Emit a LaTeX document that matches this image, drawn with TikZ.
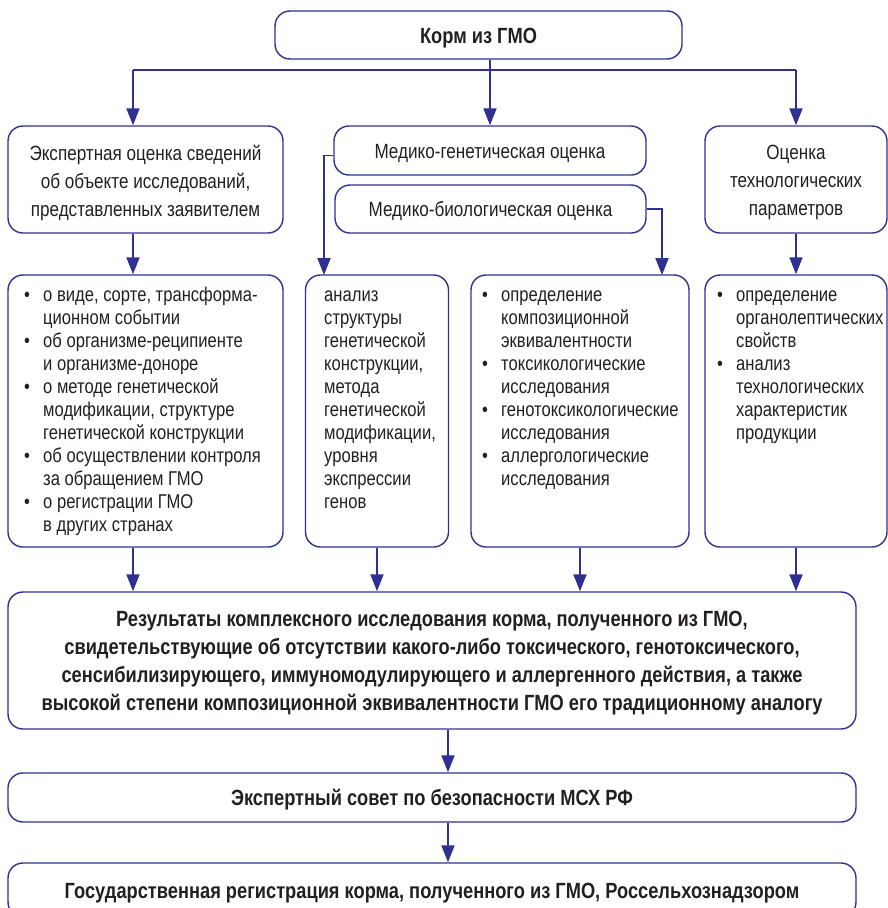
\documentclass[tikz,border=0pt]{standalone}
\usepackage{fontspec}
\setmainfont{Liberation Sans}[FakeStretch=0.83]
\usetikzlibrary{arrows.meta,calc}
\definecolor{bl}{RGB}{46,49,146}
\definecolor{tx}{RGB}{35,31,32}
\newcommand\mybul{\makebox[19pt][l]{\textbullet}}
\begin{document}
\begin{tikzpicture}[x=1pt,y=-1pt,
  box/.style={draw=bl, line width=1.4pt, rounded corners=15pt, inner sep=0pt},
  arr/.style={draw=bl, line width=1.9pt, -{Triangle[length=17pt,width=13pt]}},
  hd/.style={inner sep=0pt, text=tx, font=\fontsize{20.6}{28}\selectfont, align=center},
  bd/.style={inner sep=0pt, text=tx, font=\bfseries\fontsize{22}{28}\selectfont, align=center},
  lst/.style={inner sep=0pt, anchor=north west, text=tx, font=\fontsize{20}{23}\selectfont}]
\clip (0,0) rectangle (888,908);
\useasboundingbox (0,0) rectangle (888,908);
% boxes
\node[box,minimum width=407pt,minimum height=48pt] (top) at (478.5,35) {};
\node[box,minimum width=275pt,minimum height=107pt] (e1) at (145.5,179.5) {};
\node[box,minimum width=312pt,minimum height=49pt] (mg) at (490,150.5) {};
\node[box,minimum width=311pt,minimum height=48pt] (mb) at (490.5,209) {};
\node[box,minimum width=182pt,minimum height=107pt] (tp) at (796,179.5) {};
\node[box,minimum width=275pt,minimum height=272pt] (bA) at (145.5,411) {};
\node[box,minimum width=143pt,minimum height=272pt] (bB) at (377,411) {};
\node[box,minimum width=218pt,minimum height=272pt] (bC) at (580,411) {};
\node[box,minimum width=182pt,minimum height=272pt] (bD) at (796,411) {};
\node[box,minimum width=848pt,minimum height=137pt] (res) at (432,660.5) {};
\node[box,minimum width=848pt,minimum height=49pt] (cn) at (432,797.5) {};
\node[box,minimum width=848pt,minimum height=54pt] (fin) at (432,890) {};
% box texts
\node[bd] (topt) at ([yshift=-3pt]top.center) {Корм из ГМО};
\node[hd] (e1t) at ([yshift=-3pt]e1.center) {Экспертная оценка сведений\\об объекте исследований,\\представленных заявителем};
\node[hd] (mgt) at ([yshift=-3pt]mg.center) {Медико-генетическая оценка};
\node[hd] (mbt) at ([yshift=-2pt]mb.center) {Медико-биологическая оценка};
\node[hd] (tpt) at ([yshift=-3pt]tp.center) {Оценка\\технологических\\параметров};
\node[bd] (rest) at ([yshift=-2.5pt]res.center) {Результаты комплексного исследования корма, полученного из ГМО,\\свидетельствующие об отсутствии какого-либо токсического, генотоксического,\\сенсибилизирующего, иммуномодулирующего и аллергенного действия, а также\\высокой степени композиционной эквивалентности ГМО его традиционному аналогу};
\node[bd] (cnt) at ([yshift=-2pt]cn.center) {Экспертный совет по безопасности МСХ РФ};
\node[bd] (fint) at ([yshift=-3pt]fin.center) {Государственная регистрация корма, полученного из ГМО, Россельхознадзором};
% list texts
\node[lst] (tA) at (24,285) {\begin{tabular}{@{}l@{}l@{}}
\mybul & о виде, сорте, трансформа-\\
 & ционном событии\\
\mybul & об организме-реципиенте\\
 & и организме-доноре\\
\mybul & о методе генетической\\
 & модификации, структуре\\
 & генетической конструкции\\
\mybul & об осуществлении контроля\\
 & за обращением ГМО\\
\mybul & о регистрации ГМО\\
 & в других странах
\end{tabular}};
\node[lst] (tB) at (324,285) {\begin{tabular}{@{}l@{}}
анализ\\ структуры\\ генетической\\ конструкции,\\ метода\\ генетической\\ модификации,\\ уровня\\ экспрессии\\ генов
\end{tabular}};
\node[lst] (tC) at (482,285) {\begin{tabular}{@{}l@{}l@{}}
\mybul & определение\\
 & композиционной\\
 & эквивалентности\\
\mybul & токсикологические\\
 & исследования\\
\mybul & генотоксикологические\\
 & исследования\\
\mybul & аллергологические\\
 & исследования
\end{tabular}};
\node[lst] (tD) at (717,285) {\begin{tabular}{@{}l@{}l@{}}
\mybul & определение\\
 & органолептических\\
 & свойств\\
\mybul & анализ\\
 & технологических\\
 & характеристик\\
 & продукции
\end{tabular}};
% connectors
\coordinate (hl) at (133,70);
\coordinate (hm) at (490,70);
\coordinate (hr) at (796,70);
\draw[draw=bl,line width=1.9pt] (hl) -- (hr);
\draw[draw=bl,line width=1.9pt] (top.south -| hm) -- (hm);
\draw[arr] (hl) -- (hl |- e1.north);
\draw[arr] (hm) -- (mg.north);
\draw[arr] (hr) -- (tp.north);
\draw[arr] (e1.south -| hl) -- (bA.north -| hl);
\coordinate (gB) at (324,275);
\draw[arr] ([yshift=-5pt]mg.west) -| (gB);
\coordinate (gC) at (662,275);
\draw[arr] (mb.east) -| (gC);
\draw[arr] (tp.south) -- (bD.north);
\draw[arr] (bA.south -| hl) -- (res.north -| hl);
\draw[arr] (bB.south) -- (res.north -| bB.south);
\draw[arr] (bC.south) -- (res.north -| bC.south);
\draw[arr] (bD.south) -- (res.north -| bD.south);
\coordinate (vc) at (448,0);
\draw[arr] (res.south -| vc) -- (cn.north -| vc);
\draw[arr] (cn.south -| vc) -- (fin.north -| vc);
\end{tikzpicture}
\end{document}
